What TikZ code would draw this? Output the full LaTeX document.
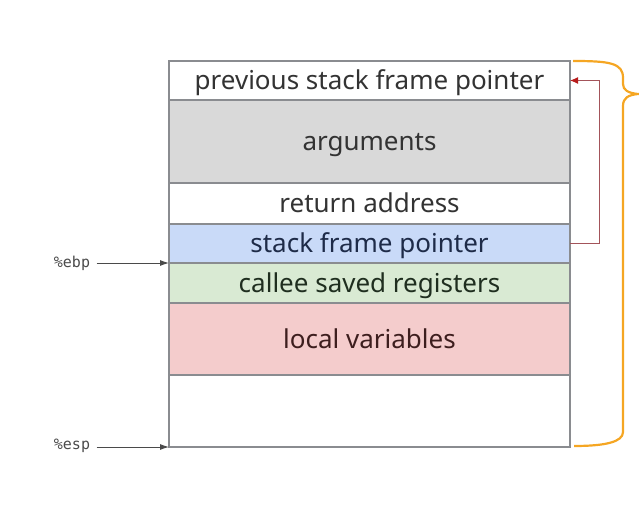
\documentclass[tikz,border=0pt]{standalone}
\usepackage{fontspec}
\setmainfont{Noto Sans}
\setmonofont{DejaVu Sans Mono}
\usepackage{tikz}
\usetikzlibrary{positioning,arrows.meta}

\definecolor{cellline}{HTML}{8A8C90}
\definecolor{argfill}{HTML}{D9D9D9}
\definecolor{sfpfill}{HTML}{C9DAF8}
\definecolor{calleefill}{HTML}{D9EAD3}
\definecolor{localfill}{HTML}{F4CCCC}
\definecolor{sfptext}{HTML}{1E2B48}
\definecolor{calleetext}{HTML}{1F2E1F}
\definecolor{localtext}{HTML}{3D1E1E}
\definecolor{linkred}{HTML}{A3545A}
\definecolor{linkhead}{HTML}{B81C1C}
\definecolor{bracecol}{HTML}{F5A623}
\definecolor{regcol}{HTML}{4A4A4A}

\begin{document}
\begin{tikzpicture}[x=1pt, y=-1pt,
    cell/.style={draw=cellline, line width=1.1pt, minimum width=401pt, inner sep=0pt, outer sep=0pt,
                 text height=24pt, text depth=5pt,
                 font=\fontsize{26}{30}\selectfont, text=black!80},
    reg/.style={font=\fontsize{15}{17}\selectfont\ttfamily, text=regcol},
    regarrow/.style={-{Latex[length=9pt,width=6pt]}, regcol, line width=0.9pt}]
          \useasboundingbox (0,0) rectangle (639,518);

          \node[cell, minimum height=39pt, anchor=north west] (prev) at (169,61) {previous stack frame pointer};
          \node[cell, minimum height=83pt, fill=argfill, below = 0pt of prev] (args) {arguments};
          \node[cell, minimum height=41pt, below = 0pt of args] (ret) {return address};
          \node[cell, minimum height=39pt, fill=sfpfill, text=sfptext, below = 0pt of ret] (sfp) {stack frame pointer};
          \node[cell, minimum height=40pt, fill=calleefill, text=calleetext, below = 0pt of sfp] (callee) {callee saved registers};
          \node[cell, minimum height=72pt, fill=localfill, text=localtext, below = 0pt of callee] (local) {local variables};
          \node[cell, minimum height=72pt, below = 0pt of local] (free) {};

          \node[reg] (ebp) at (72,263) {\%ebp};
          \node[reg] (esp) at (72,446) {\%esp};

          \draw [regarrow] (ebp.east |- sfp.south) ++(3,0) -- (sfp.south west);
          \draw [regarrow] (esp.east |- free.south) ++(3,0) -- (free.south west);

          \draw [linkred, line width=1pt, arrows={-{Latex[length=8pt,width=7pt,color=linkhead]}}]
              (sfp.east) -- ++(29,0) |- (prev.east);

          % brace over the whole frame
          \draw [bracecol, line width=2.2pt] (prev.north east) ++(3,0)
              .. controls (610,61) and (623,63) .. (623,78) -- (623,84)
              .. controls (623,90) and (628,93) .. (638,94)
              .. controls (628,95) and (623,98) .. (623,106) -- (623,432)
              .. controls (623,442) and (605,446) .. (574,446);
        \end{tikzpicture}
\end{document}
